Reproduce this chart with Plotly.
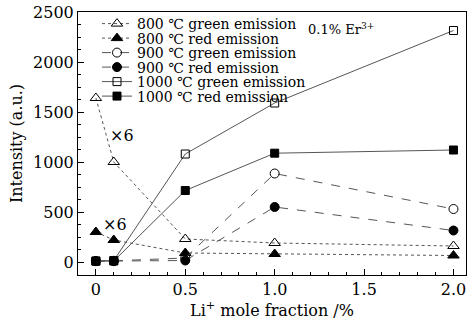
import plotly.graph_objects as go

x = [0, 0.1, 0.5, 1.0, 2.0]

g800 = [1640, 1000, 230, 190, 160]
r800 = [300, 220, 90, 80, 65]
g900 = [10, 12, 40, 885, 530]
r900 = [8, 8, 15, 550, 315]
g1000 = [10, 15, 1080, 1590, 2315]
r1000 = [8, 10, 715, 1088, 1120]

names = ["800 ℃ green emission", "800 ℃ red emission",
         "900 ℃ green emission", "900 ℃ red emission",
         "1000 ℃ green emission", "1000 ℃ red emission"]
series = [g800, r800, g900, r900, g1000, r1000]
symbols = ["triangle-up-open", "triangle-up", "circle-open", "circle",
           "square-open", "square"]
dashes = ["dot", "dot", "dash", "dash", "solid", "solid"]
sizes = [10, 10, 9, 9, 8, 8]

FONT = "DejaVu Serif, Liberation Serif, serif"

W, H = 470, 322
ML, MR, MT, MB = 78, 4, 12, 47
PH = H - MT - MB
PW = W - ML - MR

fig = go.Figure()
legend_rows_px = [24, 38.5, 53, 67.5, 82, 96.5]
layout_legends = {}
for i, (n, y, s, d, sz) in enumerate(zip(names, series, symbols, dashes, sizes)):
    lname = "legend" if i == 0 else f"legend{i+1}"
    fig.add_trace(go.Scatter(
        x=x, y=y, name=n, mode="lines+markers", legend=lname,
        line=dict(color="#555555", width=1, dash=d),
        marker=dict(symbol=s, size=sz, color="black",
                    line=dict(color="black", width=1)),
    ))
    layout_legends[lname] = dict(
        x=(97 - ML) / PW, y=1 - (legend_rows_px[i] - MT) / PH,
        xanchor="left", yanchor="middle",
        bgcolor="rgba(0,0,0,0)", font=dict(family=FONT, size=14),
        itemwidth=30, borderwidth=0)

fig.add_annotation(x=0.145, y=1270, text="×6", showarrow=False,
                   font=dict(family=FONT, size=16, color="black"))
fig.add_annotation(x=0.105, y=380, text="×6", showarrow=False,
                   font=dict(family=FONT, size=16, color="black"))
fig.add_annotation(x=1.37, y=2330, text="0.1% Er<sup>3+</sup>", showarrow=False,
                   font=dict(family=FONT, size=13, color="black"))

fig.update_layout(
    width=W, height=H,
    margin=dict(l=ML, r=MR, t=MT, b=MB),
    paper_bgcolor="white", plot_bgcolor="white",
    font=dict(family=FONT, color="black"),
    showlegend=True,
    xaxis=dict(range=[-0.1, 2.07], tickvals=[0, 0.5, 1.0, 1.5, 2.0],
               ticktext=["0", "0.5", "1.0", "1.5", "2.0"],
               ticks="inside", ticklen=6, tickcolor="black",
               minor=dict(dtick=0.1, tick0=0, ticks="inside", ticklen=3, tickcolor="black"),
               showline=True, linecolor="black", linewidth=1, mirror=True,
               showgrid=False, zeroline=False, automargin=False,
               tickfont=dict(family=FONT, size=16),
               title=dict(text="Li<sup>+</sup> mole fraction /%", standoff=2,
                          font=dict(family=FONT, size=16))),
    yaxis=dict(range=[-130, 2500], tickvals=[0, 500, 1000, 1500, 2000, 2500],
               ticks="inside", ticklen=6, tickcolor="black",
               minor=dict(dtick=125, tick0=0, ticks="inside", ticklen=3, tickcolor="black"),
               showline=True, linecolor="black", linewidth=1, mirror=True,
               showgrid=False, zeroline=False, automargin=False,
               tickfont=dict(family=FONT, size=16),
               title=dict(text="Intensity (a.u.)", standoff=6,
                          font=dict(family=FONT, size=16))),
    **layout_legends,
)

fig.write_html("out.html", config={"displayModeBar": False},
               post_script="document.body.style.margin='0';")
